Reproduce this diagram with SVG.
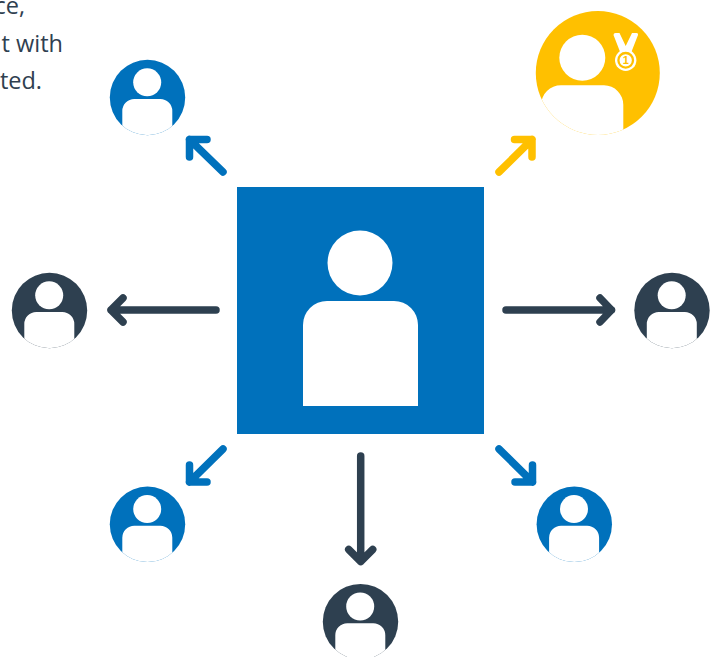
<svg xmlns="http://www.w3.org/2000/svg" xmlns:xlink="http://www.w3.org/1999/xlink" width="716" height="657" viewBox="0 0 716 657">
<style>
.t{font-family:"Open Sans","Noto Sans",sans-serif;font-size:23.5px;fill:#2f4050;text-anchor:end}
.blue{fill:#0071bc}.dark{fill:#2e4050}.gold{fill:#ffc000}.w{fill:#fff}
.a{fill:none;stroke-width:7.5;stroke-linecap:round;stroke-linejoin:round}
.ab{stroke:#0071bc}.ad{stroke:#2e4050}.ag{stroke:#ffc000}
</style>
<defs>
<clipPath id="sc"><circle cx="0" cy="0" r="37.7"/></clipPath>
<clipPath id="gc"><circle cx="597.8" cy="73" r="62"/></clipPath>
<g id="fig">
<circle class="w" cx="-0.3" cy="-15.2" r="14"/>
<path class="w" clip-path="url(#sc)" d="M-25.2 40V13.5A12 12 0 0 1-13.2 1.5H12.8A12 12 0 0 1 24.8 13.5V40Z"/>
</g>
</defs>
<rect width="716" height="657" fill="#fff"/>
<g id="caption">
<text class="t" x="25" y="14">ce,</text>
<text class="t" x="63" y="52">t with</text>
<text class="t" x="42" y="89">ted.</text>
</g>
<g id="connectors">
<path class="a ab" d="M223 172L189.500 139.500M189.500 157V139.500H207"/>
<path class="a ag" d="M499 172L532 139.500M532 157V139.500H514.500"/>
<path class="a ad" d="M216 310H111M123 298L111 310L123 322"/>
<path class="a ad" d="M506 310H611.500M600 298L611.500 310L600 322"/>
<path class="a ab" d="M223 449L189.500 482M189.500 465V482H207"/>
<path class="a ab" d="M499 449L532.500 482M532.500 465V482H515"/>
<path class="a ad" d="M360.700 456V561.500M348.700 549.500L360.700 561.500L372.700 549.500"/>
</g>
<g id="center">
<rect class="blue" x="237" y="187" width="247" height="247"/>
<circle class="w" cx="360" cy="263" r="32.500"/>
<path class="w" d="M303 406V325A24 24 0 0 1 327 301H394A24 24 0 0 1 418 325V406Z"/>
</g>
<g id="user-top-left"><circle class="blue" cx="147.500" cy="97.500" r="37.700"/><use xlink:href="#fig" x="147.500" y="97.500"/></g>
<g id="user-left"><circle class="dark" cx="49.500" cy="310.500" r="37.700"/><use xlink:href="#fig" x="49.500" y="310.500"/></g>
<g id="user-right"><circle class="dark" cx="672" cy="310.500" r="37.700"/><use xlink:href="#fig" x="672" y="310.500"/></g>
<g id="user-bottom-left"><circle class="blue" cx="147.500" cy="524.300" r="37.700"/><use xlink:href="#fig" x="147.500" y="524.300"/></g>
<g id="user-bottom-right"><circle class="blue" cx="574.300" cy="524.300" r="37.700"/><use xlink:href="#fig" x="574.300" y="524.300"/></g>
<g id="user-bottom"><circle class="dark" cx="360.500" cy="621.700" r="37.700"/><use xlink:href="#fig" x="360.500" y="621.700"/></g>
<g id="user-winner">
<circle class="gold" cx="597.800" cy="73" r="62"/>
<circle class="w" cx="582.300" cy="57.700" r="23"/>
<path class="w" clip-path="url(#gc)" d="M541 140V105A20 20 0 0 1 561 85.300H604A19.500 19.500 0 0 1 623.300 105V140Z"/>
<path class="w" d="M613.500 35Q613.500 33 615.500 33H619.500L625.700 46L632 33H636.500Q638.500 33 638 35L631 53H620.500Z"/>
<circle class="w" cx="625.700" cy="60.300" r="10.700"/>
<circle cx="625.700" cy="60.300" r="7.300" fill="#fff" stroke="#ffc000" stroke-width="2.300"/>
<text x="625.700" y="64.300" text-anchor="middle" font-family="'Liberation Sans',sans-serif" font-size="11" font-weight="700" fill="#ffc000">1</text>
</g>
</svg>
